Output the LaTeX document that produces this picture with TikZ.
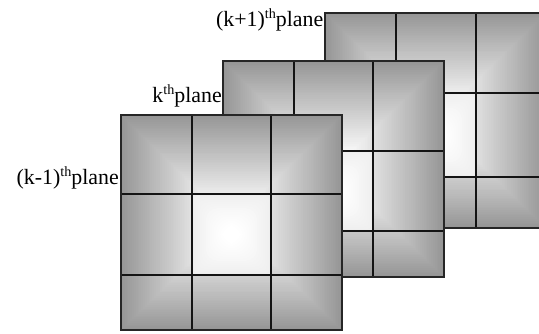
\documentclass[tikz,border=0pt]{standalone}
\usepackage{fontspec}
\setmainfont{Liberation Serif}
\newcommand{\thmark}{\raisebox{0.36em}{\fontsize{10.6pt}{11pt}\selectfont th}}
\tikzset{
  platelab/.style={anchor=east,inner sep=0pt,font=\fontsize{16.4pt}{18pt}\selectfont,text=black},
  outerline/.style={draw=black!85,line width=1.25pt},
  gridline/.style={draw=black!92,line width=1pt}
}
\newcommand{\planeplate}[8]{%
  % #1 x0, #2 y0, #3 x1, #4 y1, #5 #6 vertical lines, #7 #8 horizontal lines
  \pgfmathsetmacro{\cxx}{(#1+#3)/2}
  \pgfmathsetmacro{\cyy}{(#2+#4)/2}
  \begin{scope}
    \clip (#1,#2) rectangle (#3,#4);
    \foreach \i in {0,...,59}{
      \pgfmathsetmacro{\ss}{\i/60}
      \pgfmathsetmacro{\gv}{min(100,59+46*\ss)}
      \pgfmathsetmacro{\ax}{#1+(\cxx-#1)*\ss}
      \pgfmathsetmacro{\ay}{#2+(\cyy-#2)*\ss}
      \pgfmathsetmacro{\bx}{#3-(#3-\cxx)*\ss}
      \pgfmathsetmacro{\by}{#4-(#4-\cyy)*\ss}
      \fill[white!\gv!black] (\ax,\ay) rectangle (\bx,\by);
    }
    % centre cell: its own soft glow
    \pgfmathsetmacro{\ccx}{(#5+#6)/2}
    \pgfmathsetmacro{\ccy}{(#7+#8)/2}
    \foreach \i in {0,...,19}{
      \pgfmathsetmacro{\ss}{\i/20}
      \pgfmathsetmacro{\gv}{min(100,93.5+9*\ss)}
      \pgfmathsetmacro{\ax}{#5+(\ccx-#5)*\ss}
      \pgfmathsetmacro{\ay}{#7+(\ccy-#7)*\ss}
      \pgfmathsetmacro{\bx}{#6-(#6-\ccx)*\ss}
      \pgfmathsetmacro{\by}{#8-(#8-\ccy)*\ss}
      \pgfmathsetmacro{\rr}{1+22*\ss*(1-\ss)+8*\ss}
      \fill[white!\gv!black,rounded corners=\rr pt] (\ax,\ay) rectangle (\bx,\by);
    }
  \end{scope}
  \draw[gridline] (#5,#2) -- (#5,#4) (#6,#2) -- (#6,#4) (#1,#7) -- (#3,#7) (#1,#8) -- (#3,#8);
  \draw[outerline] (#1,#2) rectangle (#3,#4);
}
\begin{document}
\begin{tikzpicture}[x=0.75pt,y=-0.75pt]
  \useasboundingbox (0,0) rectangle (539,333);
  \clip (0,0) rectangle (539,333);
  \planeplate{325}{13}{546}{228}{396}{476}{93}{177}
  \planeplate{223}{61}{444}{277}{294}{373}{151}{231}
  \planeplate{121}{115}{342}{330}{192}{271}{194}{275}
  \node[platelab] (kplus) at (323.5,20) {(k+1)\thmark plane};
  \node[platelab] (kzero) at (222,96) {k\thmark plane};
  \node[platelab] (kminus) at (119,178) {(k-1)\thmark plane};
\end{tikzpicture}
\end{document}
